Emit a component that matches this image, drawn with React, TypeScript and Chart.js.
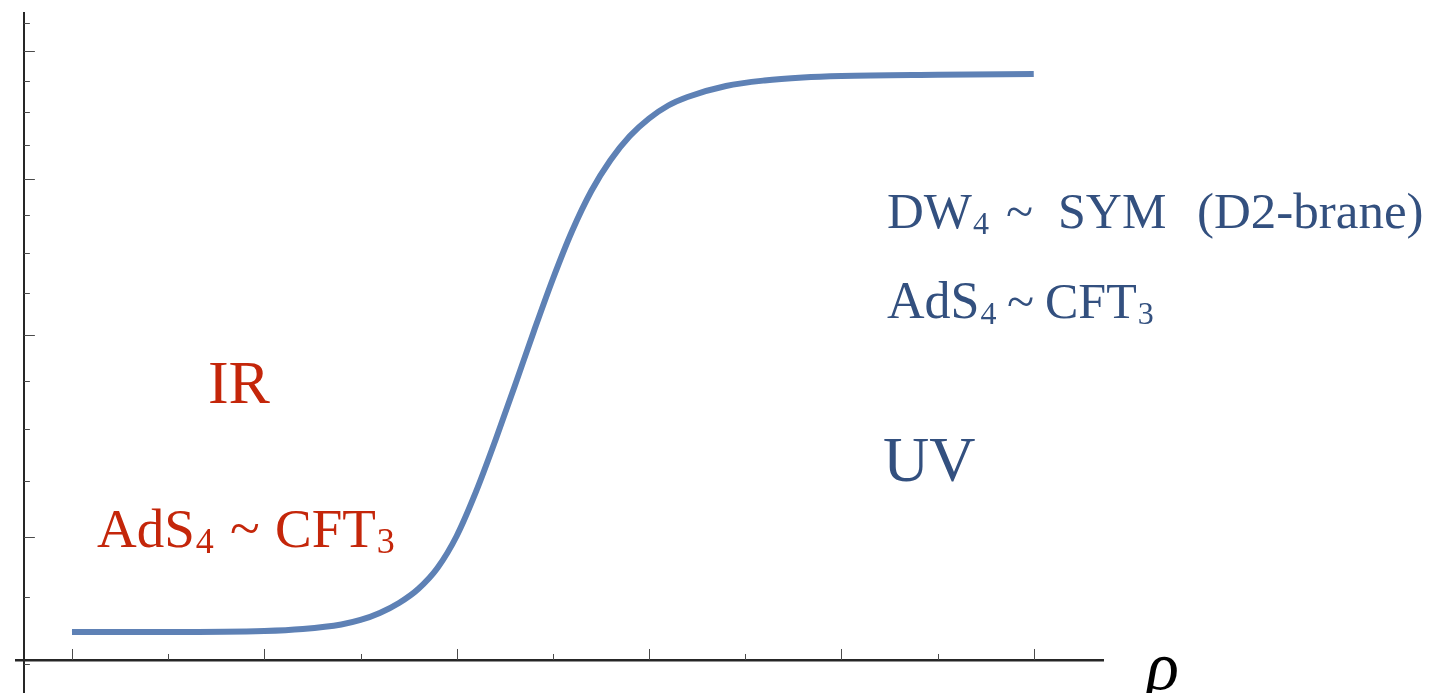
import React, { useEffect, useRef } from "react";
import { Chart, registerables } from "chart.js";

Chart.register(...registerables);

// curve samples (rho, value)
const rhoValues = [0, 0.5, 1.0, 1.2, 1.4, 1.5, 1.6, 1.7, 1.8, 1.9, 2.0, 2.1, 2.2, 2.3, 2.4, 2.5, 2.6, 2.7, 2.8, 2.9, 3.0, 3.1, 3.2, 3.4, 3.6, 3.8, 4.0, 4.5, 5.0];
const curveValues = [0.046, 0.046, 0.0476, 0.0509, 0.0583, 0.0657, 0.0772, 0.0936, 0.1166, 0.1511, 0.2036, 0.2759, 0.3596, 0.4483, 0.5386, 0.6256, 0.7044, 0.7701, 0.821, 0.8604, 0.8892, 0.9105, 0.9245, 0.9425, 0.9516, 0.9565, 0.9589, 0.9609, 0.9622];

// tick positions
const xMajorTicks = [0, 1, 2, 3, 4, 5];
const xMinorTicks = [0.5, 1.5, 2.5, 3.5, 4.5];
const yMajorTicks = [1.0, 0.7898, 0.5337, 0.2025];
const yMinorTicks = [1.0465, 0.9507, 0.8998, 0.8456, 0.7307, 0.6683, 0.6031, 0.4586, 0.3793, 0.2944, 0.103, -0.0071];

const X_MIN = -0.291;
const X_MAX = 5.36;
const Y_MIN = -0.0542;
const Y_MAX = 1.0624;
const Y_AXIS_AT = -0.25;

const SERIF = '"Liberation Serif", "Times New Roman", serif';
const RED = "#C4260A";
const BLUE = "#33507F";

// dx: offset from label anchor; attach: placed right after previous piece
type Seg = { t: string; dx?: number; attach?: boolean; size: number; dy?: number };
type Label = { x: number; y: number; color: string; segs: Seg[]; italic?: boolean };

const labels: Label[] = [
  { x: 0.707, y: 0.422, color: RED, segs: [{ t: "IR", dx: 0, size: 62 }] },
  {
    x: 0.13, y: 0.1856, color: RED, segs: [
      { t: "AdS", dx: 0, size: 55 },
      { t: "4", attach: true, size: 36, dy: 6 },
      { t: "~", dx: 133, size: 55 },
      { t: "CFT", dx: 178, size: 55 },
      { t: "3", attach: true, size: 36, dy: 6 },
    ],
  },
  { x: 4.216, y: 0.2939, color: BLUE, segs: [{ t: "UV", dx: 0, size: 64 }] },
  {
    x: 4.237, y: 0.7094, color: BLUE, segs: [
      { t: "DW", dx: 0, size: 51 },
      { t: "4", attach: true, size: 32, dy: 6 },
      { t: "~", dx: 119, size: 50 },
      { t: "SYM", dx: 171, size: 50 },
      { t: "(D2-brane)", dx: 310, size: 51 },
    ],
  },
  {
    x: 4.237, y: 0.5616, color: BLUE, segs: [
      { t: "AdS", dx: 0, size: 52 },
      { t: "4", attach: true, size: 32, dy: 6 },
      { t: "~", dx: 120, size: 50 },
      { t: "CFT", dx: 158, size: 50 },
      { t: "3", attach: true, size: 32, dy: 6 },
    ],
  },
  { x: 5.585, y: -0.048, color: "#000", italic: true, segs: [{ t: "ρ", dx: 0, size: 68 }] },
];

const tickPlugin = {
  id: "innerTicks",
  beforeDatasetsDraw(chart: any) {
    const { ctx, scales } = chart;
    const xs = scales.x;
    const ys = scales.y;
    const axisY = ys.getPixelForValue(0);
    const axisX = xs.getPixelForValue(Y_AXIS_AT);
    ctx.save();
    ctx.strokeStyle = "#4a4a4a";
    ctx.lineWidth = 1;
    ctx.beginPath();
    const xt = (v: number, len: number) => {
      const p = Math.round(xs.getPixelForValue(v)) + 0.5;
      ctx.moveTo(p, axisY);
      ctx.lineTo(p, axisY - len);
    };
    const yt = (v: number, len: number) => {
      const p = Math.round(ys.getPixelForValue(v)) + 0.5;
      ctx.moveTo(axisX, p);
      ctx.lineTo(axisX + len, p);
    };
    xMajorTicks.forEach((v) => xt(v, 11));
    xMinorTicks.forEach((v) => xt(v, 6));
    yMajorTicks.forEach((v) => yt(v, 11));
    yMinorTicks.forEach((v) => yt(v, 6));
    ctx.stroke();
    ctx.restore();
  },
};

const textPlugin = {
  id: "textLabels",
  afterDraw(chart: any) {
    const { ctx, scales } = chart;
    ctx.save();
    ctx.textBaseline = "alphabetic";
    ctx.textAlign = "left";
    labels.forEach((l) => {
      const x0 = scales.x.getPixelForValue(l.x);
      const y0 = scales.y.getPixelForValue(l.y);
      ctx.fillStyle = l.color;
      let end = x0;
      l.segs.forEach((s) => {
        ctx.font = `${l.italic ? "italic " : ""}${s.size}px ${SERIF}`;
        const x = s.attach ? end + 1 : x0 + (s.dx || 0);
        ctx.fillText(s.t, x, y0 + (s.dy || 0));
        end = x + ctx.measureText(s.t).width;
      });
    });
    ctx.restore();
  },
};

export default function App() {
  const ref = useRef<HTMLCanvasElement>(null);
  useEffect(() => {
    document.body.style.margin = "0";
    document.body.style.overflow = "hidden";
    const chart = new Chart(ref.current!, {
      type: "line",
      data: {
        datasets: [
          {
            data: rhoValues.map((x, i) => ({ x, y: curveValues[i] })),
            borderColor: "#5E81B5",
            borderWidth: 6,
            pointRadius: 0,
            fill: false,
            cubicInterpolationMode: "monotone",
            borderCapStyle: "butt",
          },
        ],
      },
      options: {
        animation: false,
        responsive: true,
        maintainAspectRatio: false,
        layout: { padding: { left: 16, right: 329, top: 13, bottom: 0 } },
        plugins: { legend: { display: false }, tooltip: { enabled: false } },
        scales: {
          x: {
            type: "linear",
            min: X_MIN,
            max: X_MAX,
            position: { y: 0 },
            grid: { display: false, drawTicks: false },
            border: { display: true, color: "#262626", width: 2.5 },
            ticks: { display: false },
          },
          y: {
            type: "linear",
            min: Y_MIN,
            max: Y_MAX,
            position: { x: Y_AXIS_AT },
            grid: { display: false, drawTicks: false },
            border: { display: true, color: "#262626", width: 2 },
            ticks: { display: false },
          },
        },
      } as any,
      plugins: [tickPlugin, textPlugin],
    });
    return () => chart.destroy();
  }, []);
  return (
    <div style={{ width: 1432, height: 693, position: "relative", background: "#fff" }}>
      <canvas ref={ref} />
    </div>
  );
}
